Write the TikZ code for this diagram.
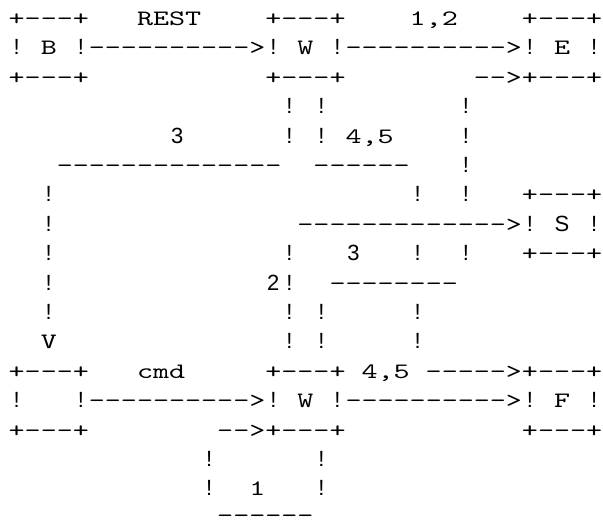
\documentclass[tikz,border=0pt]{standalone}
\usepackage{fontspec}
\newfontfamily\monof[FakeStretch=1.389,Ligatures=TeXOff]{lmmono10-regular.otf}
\newfontfamily\sansf{Liberation Sans}
\tikzset{
  mono/.style={anchor=base west,inner sep=0pt,outer sep=0pt,font=\monof\fontsize{22}{22}\selectfont},
  bang/.style={anchor=base,inner sep=0pt,outer sep=0pt,font=\sansf\fontsize{22}{22}\selectfont},
}
% mono chunk starting at column #2 on row #3
\newcommand\putM[4]{\node[mono] (#1) at ({8.7+16.04*(#2)},{-25.5-29.4*((#3)-1)}) {#4};}
% single sans glyph centred in column #2 on row #3
\newcommand\putS[4]{\node[bang] (#1) at ({16.72+16.04*(#2)},{-25.5-29.4*((#3)-1)}) {#4};}
\begin{document}
\begin{tikzpicture}[x=1pt,y=1pt]
\fill[white] (0,0) rectangle (603,-520);
\useasboundingbox (0,0) rectangle (603,-520);
% row 1
\putM{r1a}{0}{1}{+---+}
\putM{r1b}{8}{1}{REST}
\putM{r1c}{16}{1}{+---+}
\putM{r1d}{25}{1}{1,2}
\putM{r1e}{32}{1}{+---+}
% row 2
\putS{r2a}{0}{2}{!}
\putM{r2b}{2}{2}{B}
\putS{r2c}{4}{2}{!}
\putM{r2d}{5}{2}{---------->}
\putS{r2e}{16}{2}{!}
\putM{r2f}{18}{2}{W}
\putS{r2g}{20}{2}{!}
\putM{r2h}{21}{2}{---------->}
\putS{r2i}{32}{2}{!}
\putM{r2j}{34}{2}{E}
\putS{r2k}{36}{2}{!}
% row 3
\putM{r3a}{0}{3}{+---+}
\putM{r3b}{16}{3}{+---+}
\putM{r3c}{29}{3}{-->}
\putM{r3d}{32}{3}{+---+}
% row 4
\putS{r4a}{17}{4}{!}
\putS{r4b}{19}{4}{!}
\putS{r4c}{28}{4}{!}
% row 5
\putS{r5a}{10}{5}{3}
\putS{r5b}{17}{5}{!}
\putS{r5c}{19}{5}{!}
\putM{r5d}{21}{5}{4,5}
\putS{r5e}{28}{5}{!}
% row 6
\putM{r6a}{3}{6}{--------------}
\putM{r6b}{19}{6}{------}
\putS{r6c}{28}{6}{!}
% row 7
\putS{r7a}{2}{7}{!}
\putS{r7b}{25}{7}{!}
\putS{r7c}{28}{7}{!}
\putM{r7d}{32}{7}{+---+}
% row 8
\putS{r8a}{2}{8}{!}
\putM{r8b}{18}{8}{------------->}
\putS{r8c}{32}{8}{!}
\putS{r8d}{34}{8}{S}
\putS{r8e}{36}{8}{!}
% row 9
\putS{r9a}{2}{9}{!}
\putS{r9b}{17}{9}{!}
\putS{r9c}{21}{9}{3}
\putS{r9d}{25}{9}{!}
\putS{r9e}{28}{9}{!}
\putM{r9f}{32}{9}{+---+}
% row 10
\putS{r10a}{2}{10}{!}
\putS{r10b}{16}{10}{2}
\putS{r10c}{17}{10}{!}
\putM{r10d}{20}{10}{--------}
% row 11
\putS{r11a}{2}{11}{!}
\putS{r11b}{17}{11}{!}
\putS{r11c}{19}{11}{!}
\putS{r11d}{25}{11}{!}
% row 12
\putM{r12a}{2}{12}{V}
\putS{r12b}{17}{12}{!}
\putS{r12c}{19}{12}{!}
\putS{r12d}{25}{12}{!}
% row 13
\putM{r13a}{0}{13}{+---+}
\putM{r13b}{8}{13}{cmd}
\putM{r13c}{16}{13}{+---+}
\putM{r13d}{22}{13}{4,5}
\putM{r13e}{26}{13}{----->}
\putM{r13f}{32}{13}{+---+}
% row 14
\putS{r14a}{0}{14}{!}
\putS{r14b}{4}{14}{!}
\putM{r14c}{5}{14}{---------->}
\putS{r14d}{16}{14}{!}
\putM{r14e}{18}{14}{W}
\putS{r14f}{20}{14}{!}
\putM{r14g}{21}{14}{---------->}
\putS{r14h}{32}{14}{!}
\putM{r14i}{34}{14}{F}
\putS{r14j}{36}{14}{!}
% row 15
\putM{r15a}{0}{15}{+---+}
\putM{r15b}{13}{15}{-->}
\putM{r15c}{16}{15}{+---+}
\putM{r15d}{32}{15}{+---+}
% row 16
\putS{r16a}{12}{16}{!}
\putS{r16b}{19}{16}{!}
% row 17
\putS{r17a}{12}{17}{!}
\putM{r17b}{15}{17}{1}
\putS{r17c}{19}{17}{!}
% row 18
\putM{r18a}{13}{17.9}{------}
\end{tikzpicture}
\end{document}
